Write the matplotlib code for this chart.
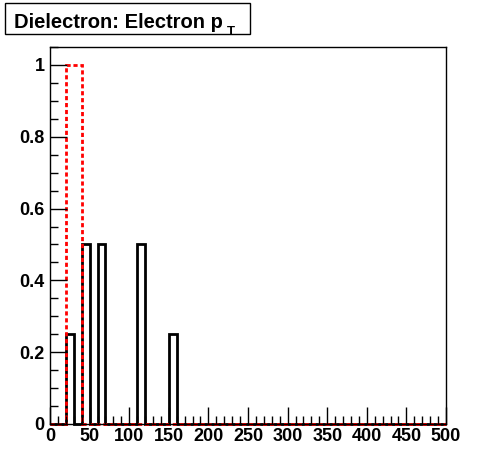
import numpy as np
import matplotlib
matplotlib.use('Agg')
import matplotlib.pyplot as plt
from matplotlib.patches import Rectangle
from matplotlib.ticker import MultipleLocator

plt.rcParams['font.family'] = ['Liberation Sans', 'DejaVu Sans']
plt.rcParams['font.weight'] = 'bold'

# Data: black histogram (10 GeV bins), red histogram (20 GeV bins)
black_bin_lo = [20, 40, 60, 110, 150]
black_vals = [0.25, 0.5, 0.5, 0.5, 0.25]
red_bin_lo = [20]
red_vals = [1.0]

x_ticks = [0, 50, 100, 150, 200, 250, 300, 350, 400, 450, 500]
y_ticks = [0, 0.2, 0.4, 0.6, 0.8, 1]
y_labels = ['0', '0.2', '0.4', '0.6', '0.8', '1']

black_edges = np.arange(0, 510, 10)
black_h = np.zeros(len(black_edges) - 1)
for lo, v in zip(black_bin_lo, black_vals):
    black_h[lo // 10] = v

red_edges = np.arange(0, 520, 20)
red_h = np.zeros(len(red_edges) - 1)
for lo, v in zip(red_bin_lo, red_vals):
    red_h[lo // 20] = v

fig = plt.figure(figsize=(4.96, 4.72), dpi=100)
ax = fig.add_axes([50 / 496, 1 - 424 / 472, 396 / 496, 377 / 472])

ax.stairs(black_h, black_edges, color='black', linewidth=2, clip_on=False)
ax.stairs(red_h, red_edges, color='red', linewidth=2,
          linestyle=(0, (1.5, 1.0)), clip_on=False)

ax.set_xlim(0, 500)
ax.set_ylim(0, 1.05)
ax.set_xticks(x_ticks)
ax.set_yticks(y_ticks)
ax.set_yticklabels(y_labels)
ax.xaxis.set_minor_locator(MultipleLocator(10))
ax.yaxis.set_minor_locator(MultipleLocator(0.05))
ax.tick_params(which='both', direction='in', top=False, right=False, labelsize=13)
ax.tick_params(which='major', length=12, width=1)
ax.tick_params(which='minor', length=6, width=1)
ax.tick_params(axis='x', which='major', pad=3)
ax.tick_params(axis='y', which='major', pad=4)
for s in ax.spines.values():
    s.set_linewidth(1)

# title box
fig.patches.append(Rectangle((5 / 496, 1 - 34 / 472), 245 / 496, 31 / 472,
                             transform=fig.transFigure, facecolor='white',
                             edgecolor='black', linewidth=1))
t = fig.text(14 / 496, 1 - 28 / 472, 'Dielectron: Electron p',
             fontsize=14.5, fontweight='bold', va='baseline', ha='left')
r = fig.canvas.get_renderer()
bb = t.get_window_extent(renderer=r)
fig.text(bb.x1 / fig.bbox.width + 4 / 496, 1 - 35 / 472, 'T',
         fontsize=9.5, fontweight='bold', va='baseline', ha='left')

fig.savefig('out.png', dpi=100)
